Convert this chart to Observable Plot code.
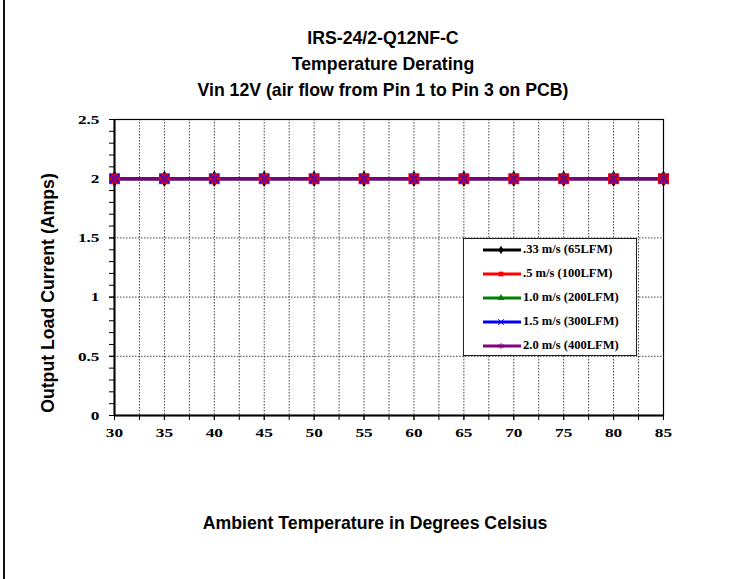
<!DOCTYPE html>
<html>
<head>
<meta charset="utf-8">
<script src="https://cdn.jsdelivr.net/npm/d3@7"></script>
<script src="https://cdn.jsdelivr.net/npm/@observablehq/plot@0.6"></script>
<style>
  html, body { margin: 0; padding: 0; background: #fff; }
  #wrap { position: relative; width: 741px; height: 579px; overflow: hidden; background: #fff; }
  #wrap > svg { position: absolute; left: 0; top: 0; }
  .sans { position: absolute; font-family: "Liberation Sans", Arial, sans-serif; font-weight: bold; font-size: 19px; color: #000; white-space: nowrap; line-height: 1; }
  #lborder { position: absolute; left: 3px; top: 0; width: 2px; height: 579px; background: #111; }
  #legend { position: absolute; left: 463px; top: 238px; width: 174px; height: 118px; border: 1px solid #222; background: #fff; box-sizing: border-box; }
  .lrow { position: absolute; left: 0; height: 20px; width: 172px; }
  .lrow svg { position: absolute; left: 0; top: 0; }
  .lrow span { position: absolute; left: 59px; top: 4px; font-family: "Liberation Serif", "Times New Roman", serif; font-weight: bold; font-size: 11.5px; white-space: nowrap; line-height: 1; transform-origin: 0 50%; transform: scaleX(1.09); }
</style>
</head>
<body>
<div id="wrap"></div>
<script>
// ---- data ----
const temps = [30, 35, 40, 45, 50, 55, 60, 65, 70, 75, 80, 85];
const s033 = [2, 2, 2, 2, 2, 2, 2, 2, 2, 2, 2, 2];
const s05  = [2, 2, 2, 2, 2, 2, 2, 2, 2, 2, 2, 2];
const s10  = [2, 2, 2, 2, 2, 2, 2, 2, 2, 2, 2, 2];
const s15  = [2, 2, 2, 2, 2, 2, 2, 2, 2, 2, 2, 2];
const s20  = [2, 2, 2, 2, 2, 2, 2, 2, 2, 2, 2, 2];
const seriesNames = [".33 m/s (65LFM)", ".5 m/s (100LFM)", "1.0 m/s (200LFM)", "1.5 m/s (300LFM)", "2.0 m/s (400LFM)"];
const seriesValues = [s033, s05, s10, s15, s20];
const seriesColors = ["#000000", "#ff0000", "#008000", "#0000ff", "#800080"];
const seriesSymbols = ["diamond", "square", "triangle", "times", "asterisk"];
const xTickLabels = [30, 35, 40, 45, 50, 55, 60, 65, 70, 75, 80, 85];
const xMinorTicks = [30, 32.5, 35, 37.5, 40, 42.5, 45, 47.5, 50, 52.5, 55, 57.5, 60, 62.5, 65, 67.5, 70, 72.5, 75, 77.5, 80, 82.5, 85];
const yTickLabels = [0, 0.5, 1, 1.5, 2, 2.5];
const yMinorTicks = [0, 0.1, 0.2, 0.3, 0.4, 0.5, 0.6, 0.7, 0.8, 0.9, 1, 1.1, 1.2, 1.3, 1.4, 1.5, 1.6, 1.7, 1.8, 1.9, 2, 2.1, 2.2, 2.3, 2.4, 2.5];
const titleLines = ["IRS-24/2-Q12NF-C", "Temperature Derating", "Vin 12V (air flow from Pin 1 to Pin 3 on PCB)"];
const xTitle = "Ambient Temperature in Degrees Celsius";
const yTitle = "Output Load Current (Amps)";

const rows = [];
seriesValues.forEach((vals, i) => vals.forEach((v, j) => rows.push({series: seriesNames[i], idx: i, t: temps[j], v})));

const tickFont = {fontFamily: "'Liberation Serif', 'Times New Roman', serif", fontWeight: "bold", fontSize: 13.5};
const gridStyle = {stroke: "#444", strokeOpacity: 1, strokeDasharray: "1.5,1.5", strokeWidth: 1};

const marks = [
  Plot.gridX(xMinorTicks.filter(d => d > 30 && d < 85), gridStyle),
  Plot.gridY([0.5, 1, 1.5, 2], gridStyle),
  Plot.axisX(xMinorTicks, {tickSize: 5, tickFormat: () => "", label: null, strokeWidth: 1}),
  Plot.axisX(xTickLabels, {tickSize: 5, tickPadding: 7, label: null, tickFormat: d => String(d), ...tickFont}),
  Plot.axisY(yMinorTicks, {tickSize: 5, label: null, tickFormat: () => ""}),
  Plot.axisY(yTickLabels, {tickSize: 5, tickPadding: 10, label: null, tickFormat: d => String(d), ...tickFont}),
  Plot.frame({stroke: "#000", strokeWidth: 1.2}),
  Plot.ruleX([30], {stroke: "#000", strokeWidth: 2}),
  Plot.ruleY([0], {stroke: "#000", strokeWidth: 2}),
];
seriesNames.forEach((name, i) => {
  marks.push(Plot.line(rows.filter(r => r.idx === i), {x: "t", y: "v", stroke: seriesColors[i], strokeWidth: 3}));
});
const dotR = [5, 6.2, 3, 4, 5];
seriesNames.forEach((name, i) => {
  const filled = i < 3;
  marks.push(Plot.dot(rows.filter(r => r.idx === i), {
    x: "t", y: "v", symbol: () => seriesSymbols[i],
    r: dotR[i],
    fill: filled ? seriesColors[i] : "none",
    stroke: filled ? "none" : seriesColors[i],
    strokeWidth: i === 4 ? 2 : 1.4
  }));
});

const chart = Plot.plot({
  width: 741, height: 579,
  marginLeft: 114, marginRight: 78, marginTop: 119, marginBottom: 164,
  x: {domain: [30, 85], axis: null},
  y: {domain: [0, 2.5], axis: null},
  style: {background: "transparent", color: "#000"},
  marks
});

// widen tick labels horizontally (reference glyphs are stretched)
d3.select(chart).selectAll("text").each(function() {
  const t = this.getAttribute("transform") || "";
  this.setAttribute("transform", t + " scale(1.28,1)");
});

const wrap = document.getElementById("wrap");
wrap.appendChild(chart);

const lb = document.createElement("div"); lb.id = "lborder"; wrap.appendChild(lb);

function addText(txt, cx, cy) {
  const d = document.createElement("div");
  d.className = "sans"; d.textContent = txt;
  d.style.left = cx + "px"; d.style.top = cy + "px";
  wrap.appendChild(d);
  return d;
}
const titleEls = [
  addText(titleLines[0], 383, 37),
  addText(titleLines[1], 383, 63),
  addText(titleLines[2], 383, 89)
];
const xEl = addText(xTitle, 375, 522);
const yEl = addText(yTitle, 47, 293);
// condense to match the reference's narrow bold face
const k = 371 / titleEls[2].getBoundingClientRect().width;
[...titleEls, xEl].forEach(el => {
  el.style.transform = `translate(-50%, -50%) scaleX(${k})`;
});
yEl.style.transform = `translate(-50%, -50%) rotate(-90deg) scaleX(${k})`;

// legend
const lg = document.createElement("div"); lg.id = "legend"; wrap.appendChild(lg);
const rowTops = [1, 25, 49, 73, 97];
const symMap = {diamond: d3.symbolDiamond, square: d3.symbolSquare, triangle: d3.symbolTriangle, times: d3.symbolTimes, asterisk: d3.symbolAsterisk};
seriesNames.forEach((name, i) => {
  const r = document.createElement("div"); r.className = "lrow"; r.style.top = rowTops[i] + "px";
  const svg = d3.create("svg").attr("width", 60).attr("height", 20);
  svg.append("line").attr("x1", 19).attr("x2", 57).attr("y1", 10).attr("y2", 10)
    .attr("stroke", seriesColors[i]).attr("stroke-width", 3);
  const filled = i < 3;
  svg.append("path").attr("transform", "translate(37,10)")
    .attr("d", d3.symbol(symMap[seriesSymbols[i]], 22)())
    .attr("fill", filled ? seriesColors[i] : "none")
    .attr("stroke", filled ? "none" : seriesColors[i]).attr("stroke-width", 1);
  r.appendChild(svg.node());
  const s = document.createElement("span"); s.textContent = name; r.appendChild(s);
  lg.appendChild(r);
});
</script>
</body>
</html>
